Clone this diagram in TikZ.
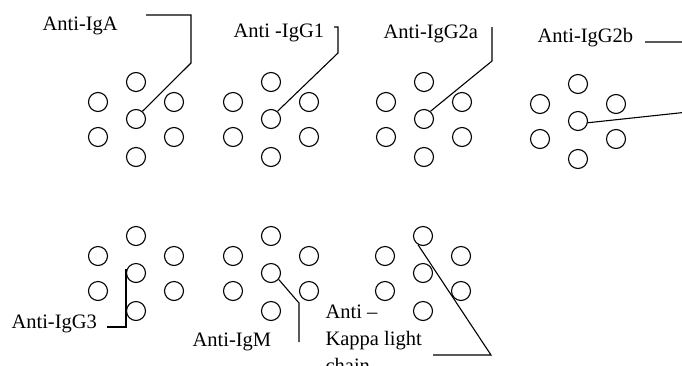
\documentclass[tikz,border=0pt]{standalone}
\usepackage{fontspec}
\setmainfont{Liberation Serif}
\usepackage{tikz}

\begin{document}
\begin{tikzpicture}[x=1pt, y=-1pt, line width=1.1pt,
    well/.style={circle, draw, minimum size=19pt, inner sep=0pt},
    lab/.style={anchor=base west, inner sep=0pt, font=\fontsize{20.5}{27}\selectfont}]
    \useasboundingbox (0,0) rectangle (682,365);
    % seven plates, each a ring of six wells round a centre well
    \foreach \g/\x/\y in {a/136/119, gi/271/119, gii/424/119, giii/578/121,
                          giv/136/273, m/271/273, k/423/273} {
        \node [well] (\g c)  at (\x, \y) {};
        \node [well] (\g t)  at (\x, \y-37) {};
        \node [well] (\g b)  at (\x, \y+38) {};
        \node [well] (\g lu) at (\x-38, \y-17) {};
        \node [well] (\g ld) at (\x-38, \y+18) {};
        \node [well] (\g ru) at (\x+38, \y-17) {};
        \node [well] (\g rd) at (\x+38, \y+18) {};
    }
    % labels
    \node [lab] (iga)   at (42, 30)  {Anti-IgA};
    \node [lab] (igg1)  at (233, 37) {Anti -IgG1};
    \node [lab] (igg2a) at (383, 38) {Anti-IgG2a};
    \node [lab] (igg2b) at (537, 42) {Anti-IgG2b};
    \node [lab] (igg3)  at (11, 328) {Anti-IgG3};
    \node [lab] (igm)   at (192, 346) {Anti-IgM};
    \node [lab, align=left, anchor=north west] (kappa) at (325, 304)
        {Anti --\\Kappa light\\chain};
    % leader lines
    \coordinate (a1) at (146, 15);
    \coordinate (a2) at (191, 15);
    \coordinate (a3) at (191, 63);
    \draw (a1) -- (a2) -- (a3) -- (ac.50);
    \coordinate (g1) at (334, 27);
    \coordinate (g2) at (338, 27);
    \coordinate (g3) at (338, 53);
    \draw (g1) -- (g2) -- (g3) -- (gic.50);
    \coordinate (h1) at (492, 27);
    \coordinate (h2) at (492, 61);
    \draw (h1) -- (h2) -- (giic.50);
    \coordinate (j1) at (645, 42);
    \coordinate (j2) at (688, 42);
    \coordinate (j3) at (688, 112);
    \draw (j1) -- (j2) -- (j3) -- (giiic.-10);
    \coordinate (n1) at (107, 327);
    \coordinate (n2) at (126, 327);
    \coordinate (n3) at (126, 269);
    \draw (n1) -- (n2) -- (n3);
    \coordinate (p1) at (299, 303);
    \coordinate (p2) at (299, 342);
    \draw (mc.-40) -- (p1) -- (p2);
    \coordinate (q1) at (491, 355);
    \coordinate (q2) at (433, 355);
    \draw (kt.-120) -- (q1) -- (q2);
\end{tikzpicture}
\end{document}
